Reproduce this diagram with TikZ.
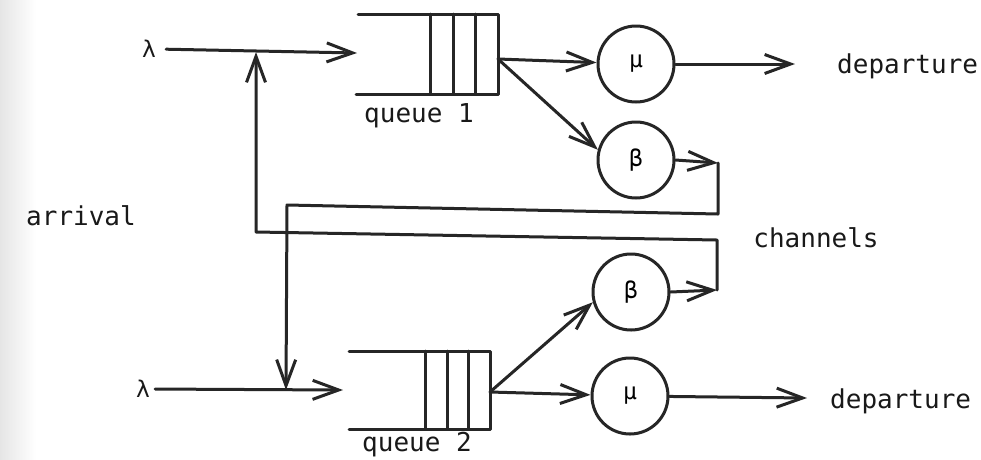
\documentclass[tikz,border=0pt]{standalone}
\usepackage{fontspec}
\setmainfont{DejaVu Sans Mono}
\usetikzlibrary{arrows.meta}
\begin{document}
\begin{tikzpicture}[x=1pt,y=-1pt,
  ink/.style={draw=black!85, line width=3pt, line cap=round, line join=round},
  arr/.style={ink, -{Straight Barb[length=26pt,width=19pt]}},
  server/.style={circle, draw=black!85, line width=3pt, minimum size=76pt,
    inner sep=0pt, font=\fontsize{23}{23}\selectfont},
  lbl/.style={font=\fontsize{26}{30}\selectfont, inner sep=0pt, text=black!90},
  greek/.style={font=\fontsize{23}{23}\selectfont, inner sep=0pt, text=black!90}]

% paper and the darker scanned edge on the left
\fill[white] (0,0) rectangle (981,459);
\shade[left color=black!10, right color=white] (0,0) rectangle (36,459);
\useasboundingbox (0,0) rectangle (981,459);

% servers
\node[server] (mu1) at (636,64)  {μ};
\node[server] (b1)  at (636,160) {β};
\node[server] (b2)  at (631,292) {β};
\node[server] (mu2) at (630,396) {μ};

% queue 1
\draw[ink] (358,14) -- (498,14) -- (498,94) -- (356,94);
\foreach \x in {430,453,475} \draw[ink] (\x,14) -- (\x,94);
\coordinate (q1in)  at (357,53);
\coordinate (q1out) at (498,59);
\node[lbl] (q1lbl) at (419,116) {queue 1};

% queue 2
\draw[ink] (349,351) -- (490,351) -- (490,429) -- (349,429);
\foreach \x in {425,447,468} \draw[ink] (\x,351) -- (\x,429);
\coordinate (q2in)  at (343,390);
\coordinate (q2out) at (490,392);
\node[lbl] (q2lbl) at (417,445) {queue 2};

% text labels
\node[greek] (lam1) at (149,49)  {λ};
\node[greek] (lam2) at (143,389) {λ};
\node[lbl] (arrival)  at (81,216)  {arrival};
\node[lbl] (channels) at (816,238) {channels};
\node[lbl, anchor=west] (dep1) at (837,66)  {departure};
\node[lbl, anchor=west] (dep2) at (830,401) {departure};

% junctions and channel corners
\coordinate (j1)  at (256,52);
\coordinate (j2)  at (286,390);
\coordinate (c1r) at (718,163);
\coordinate (c1a) at (718,214);
\coordinate (c1b) at (287,205);
\coordinate (c2r) at (717,290);
\coordinate (c2a) at (717,240);
\coordinate (c2b) at (256,232);
\coordinate (out1) at (795,64);
\coordinate (out2) at (807,398);

% arrivals into the queues
\draw[arr, shorten <=10pt] (lam1.east) -- (q1in);
\draw[arr, shorten <=5pt]  (lam2.east) -- (q2in);

% queues to servers
\draw[arr] (q1out) -- (mu1);
\draw[arr] (q1out) -- (b1.165);
\draw[arr] (q2out) -- (b2.195);
\draw[arr] (q2out) -- (mu2);

% departures
\draw[arr] (mu1) -- (out1);
\draw[arr] (mu2) -- (out2);

% channels feeding back to the other queue
\draw[arr] (b1.east) -- (c1r);
\draw[arr] (c1r) -- (c1a) -- (c1b) -- (j2);
\draw[arr] (b2.east) -- (c2r);
\draw[arr] (c2r) -- (c2a) -- (c2b) -- (j1);

\end{tikzpicture}
\end{document}
